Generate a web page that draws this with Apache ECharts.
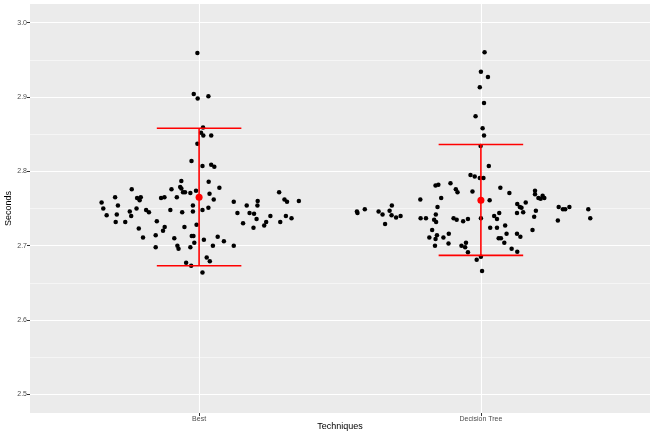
<!DOCTYPE html>
<html>
<head>
<meta charset="utf-8">
<script src="https://cdn.jsdelivr.net/npm/echarts@6/dist/echarts.min.js"></script>
<style>
html,body{margin:0;padding:0;background:#fff;}
#main{width:654px;height:436px;}
</style>
</head>
<body>
<div id="main"></div>
<script>
// categories and their x positions
var categories = ["Best", "Decision Tree"];
var yTicks = [2.5, 2.6, 2.7, 2.8, 2.9, 3.0];
var yMinor = [2.55, 2.65, 2.75, 2.85, 2.95];

// jittered points [x, seconds]
var bestPoints = [
    [0.994,2.959],[0.981,2.904],[0.995,2.898],[1.033,2.901],[1.014,2.859],[1.007,2.852],
    [1.015,2.848],[1.043,2.848],[0.994,2.837],
    [0.973,2.814],[1.012,2.807],[1.043,2.809],[1.054,2.806],[0.937,2.787],[1.034,2.786],
    [0.761,2.776],[0.902,2.776],[0.933,2.779],[0.937,2.777],[1.072,2.778],[0.943,2.772],
    [0.950,2.772],[0.969,2.771],[0.989,2.774],[1.037,2.770],[0.702,2.765],[0.780,2.764],
    [0.793,2.765],[0.789,2.761],[0.865,2.764],[0.877,2.765],[0.921,2.765],[1.052,2.762],
    [0.654,2.758],[0.712,2.754],[1.123,2.759],[1.169,2.754],[1.208,2.760],[1.207,2.754],
    [1.284,2.772],[1.303,2.762],[1.312,2.759],[1.354,2.760],[0.978,2.754],[0.660,2.750],
    [0.778,2.750],[0.812,2.748],[0.822,2.745],[0.754,2.746],[0.898,2.748],[0.940,2.745],
    [0.978,2.746],[1.012,2.748],[1.033,2.751],[0.672,2.741],[0.708,2.742],[0.759,2.740],
    [1.136,2.744],[1.179,2.744],[1.195,2.743],[1.204,2.736],[1.253,2.740],[1.308,2.740],
    [1.328,2.737],[0.704,2.732],[0.738,2.732],[0.850,2.733],[1.156,2.730],[1.238,2.732],
    [1.231,2.727],[1.288,2.732],[0.948,2.725],[0.991,2.728],[0.878,2.725],[0.786,2.723],
    [0.872,2.720],[1.193,2.724],[0.846,2.714],[0.801,2.711],[0.912,2.710],[0.974,2.713],
    [0.980,2.713],[1.017,2.708],[1.066,2.712],[1.088,2.706],[0.983,2.704],[0.846,2.698],
    [0.923,2.700],[0.927,2.696],[0.969,2.698],[1.049,2.700],[1.123,2.700],[1.027,2.684],
    [1.038,2.679],[0.954,2.677],[0.972,2.673],[1.012,2.664]
];
var treePoints = [
    [2.013,2.960],[2.000,2.934],[2.025,2.927],[1.996,2.913],[2.011,2.892],[1.981,2.874],
    [2.006,2.858],[2.011,2.848],[1.999,2.834],
    [1.963,2.795],[1.978,2.793],[1.996,2.791],[2.009,2.791],[2.028,2.807],[1.839,2.781],
    [1.849,2.782],[1.892,2.784],[1.911,2.776],[1.917,2.772],[1.970,2.773],[2.069,2.778],
    [2.101,2.771],[1.785,2.762],[1.859,2.764],[2.031,2.761],[1.684,2.754],[1.560,2.746],
    [1.562,2.744],[1.588,2.749],[1.637,2.746],[1.651,2.742],[1.676,2.747],[1.683,2.741],
    [1.699,2.738],[1.715,2.740],[1.660,2.729],[1.846,2.752],[1.840,2.742],[1.834,2.735],
    [1.841,2.732],[1.786,2.737],[1.805,2.737],[1.903,2.737],[1.914,2.735],[1.937,2.733],
    [1.954,2.736],[2.000,2.737],[1.827,2.721],[1.817,2.711],[1.844,2.714],[1.839,2.709],
    [1.867,2.711],[1.886,2.716],[1.837,2.700],[1.885,2.703],[1.931,2.700],[1.947,2.704],
    [1.944,2.698],[1.954,2.691],[1.985,2.681],[2.000,2.685],[2.004,2.666],
    [2.192,2.774],[2.192,2.769],[2.204,2.764],[2.212,2.763],[2.219,2.767],[2.225,2.764],
    [2.129,2.756],[2.138,2.752],[2.144,2.751],[2.159,2.758],[2.195,2.747],[2.128,2.744],
    [2.150,2.745],[2.065,2.744],[2.047,2.740],[2.057,2.736],[2.189,2.739],[2.276,2.752],
    [2.291,2.749],[2.299,2.749],[2.314,2.752],[2.381,2.749],[2.388,2.737],[2.273,2.734],
    [2.033,2.724],[2.057,2.724],[2.086,2.727],[2.183,2.721],[2.091,2.716],[2.128,2.716],
    [2.140,2.712],[2.063,2.710],[2.071,2.710],[2.083,2.704],[2.109,2.696],[2.129,2.692]
];

// summary per category: mean, lower, upper
var means = [2.765, 2.761];
var lowers = [2.673, 2.687];
var uppers = [2.858, 2.836];

var barHalf = 0.15;
var labelColor = "#4D4D4D";

var summary = [];
var meanData = [];
for (var i = 0; i < categories.length; i++) {
    summary.push([i + 1, lowers[i], uppers[i]]);
    meanData.push([i + 1, means[i]]);
}

// grid lines as mark lines
var gridLines = [];
for (var j = 0; j < yTicks.length; j++) {
    gridLines.push({yAxis: yTicks[j], lineStyle: {width: 1.1}});
}
for (var k = 0; k < yMinor.length; k++) {
    gridLines.push({yAxis: yMinor[k], lineStyle: {width: 0.5}});
}
for (var c = 0; c < categories.length; c++) {
    gridLines.push({xAxis: c + 1, lineStyle: {width: 1.1}});
}

var myChart = echarts.init(document.getElementById("main"));
var option = {
    animation: false,
    textStyle: {fontFamily: "Liberation Sans"},
    grid: {
        left: 30, right: 4, top: 4, bottom: 23,
        containLabel: false,
        outerBoundsMode: "none",
        show: true, backgroundColor: "#EBEBEB", borderWidth: 0
    },
    xAxis: {
        type: "value",
        min: 0.4, max: 2.6,
        name: "Techniques",
        nameLocation: "middle",
        nameGap: 9,
        nameMoveOverlap: false,
        nameTextStyle: {color: "#000", fontSize: 9},
        axisLine: {show: false},
        splitLine: {show: false},
        axisTick: {show: true, length: 3, customValues: [1, 2], lineStyle: {color: "#333"}},
        axisLabel: {
            customValues: [1, 2],
            color: labelColor, fontSize: 7, margin: 3,
            formatter: function (v) { return categories[Math.round(v) - 1] || ""; }
        }
    },
    yAxis: {
        type: "value",
        min: 2.475, max: 3.025,
        name: "Seconds",
        nameLocation: "middle",
        nameGap: 17,
        nameMoveOverlap: false,
        nameTextStyle: {color: "#000", fontSize: 9},
        axisLine: {show: false},
        splitLine: {show: false},
        axisTick: {show: true, length: 3, customValues: yTicks, lineStyle: {color: "#333"}},
        axisLabel: {
            customValues: yTicks,
            color: labelColor, fontSize: 7, margin: 3,
            formatter: function (v) { return v.toFixed(1); }
        }
    },
    series: [
        {
            // background grid
            type: "scatter",
            data: [],
            z: 0,
            silent: true,
            markLine: {
                silent: true,
                z: 1,
                symbol: "none",
                animation: false,
                label: {show: false},
                lineStyle: {color: "#FFFFFF", type: "solid"},
                data: gridLines
            }
        },
        {
            type: "scatter",
            data: bestPoints,
            symbolSize: 4.5,
            itemStyle: {color: "#000", opacity: 1},
            z: 2
        },
        {
            type: "scatter",
            data: treePoints,
            symbolSize: 4.5,
            itemStyle: {color: "#000", opacity: 1},
            z: 2
        },
        {
            type: "custom",
            data: summary,
            z: 3,
            renderItem: function (params, api) {
                var x = api.value(0);
                var lo = api.coord([x, api.value(1)]);
                var hi = api.coord([x, api.value(2)]);
                var loL = api.coord([x - barHalf, api.value(1)]);
                var loR = api.coord([x + barHalf, api.value(1)]);
                var hiL = api.coord([x - barHalf, api.value(2)]);
                var hiR = api.coord([x + barHalf, api.value(2)]);
                var st = {stroke: "#FF0000", lineWidth: 1.6};
                return {
                    type: "group",
                    children: [
                        {type: "line", shape: {x1: lo[0], y1: lo[1], x2: hi[0], y2: hi[1]}, style: st},
                        {type: "line", shape: {x1: loL[0], y1: loL[1], x2: loR[0], y2: loR[1]}, style: st},
                        {type: "line", shape: {x1: hiL[0], y1: hiL[1], x2: hiR[0], y2: hiR[1]}, style: st}
                    ]
                };
            }
        },
        {
            type: "scatter",
            data: meanData,
            symbolSize: 7,
            itemStyle: {color: "#FF0000", opacity: 1},
            z: 4
        }
    ]
};
myChart.setOption(option);
</script>
</body>
</html>
